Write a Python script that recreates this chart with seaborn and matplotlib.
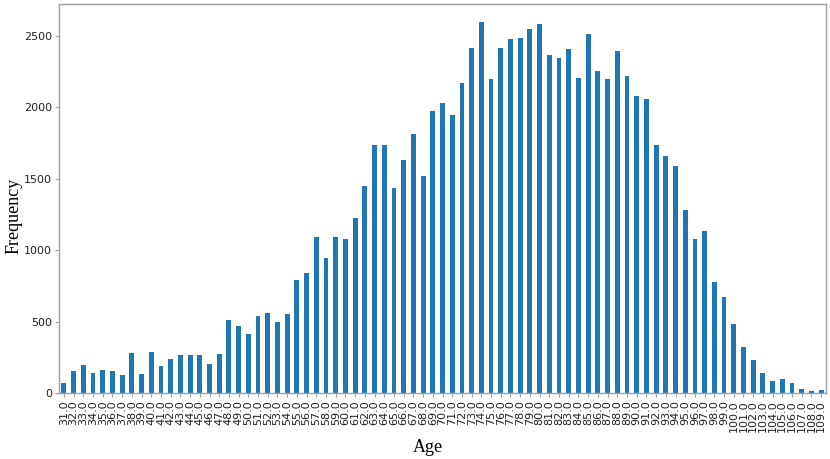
import matplotlib
matplotlib.use("Agg")
import matplotlib.pyplot as plt
import seaborn as sns
import pandas as pd

ages = [float(a) for a in range(31, 110)]
counts = [68, 154, 194, 143, 159, 154, 129, 280, 133, 285,
          187, 236, 264, 269, 269, 201, 273, 511, 467, 411,
          539, 560, 497, 555, 794, 840, 1090, 943, 1090, 1076,
          1226, 1452, 1739, 1739, 1434, 1630, 1816, 1517, 1977, 2031,
          1945, 2171, 2419, 2596, 2197, 2416, 2479, 2484, 2547, 2582,
          2365, 2344, 2412, 2204, 2512, 2258, 2197, 2395, 2220, 2078,
          2057, 1740, 1657, 1593, 1284, 1078, 1134, 775, 670, 483,
          322, 234, 140, 84, 96, 68, 31, 14, 21]
labels = [f"{a:.1f}" for a in ages]

df = pd.DataFrame({"Age": labels, "Frequency": counts})

sns.set_style("ticks")
plt.rcParams["axes.edgecolor"] = "#a0a0a0"
plt.rcParams["xtick.color"] = "#a0a0a0"
plt.rcParams["ytick.color"] = "#a0a0a0"
plt.rcParams["xtick.labelcolor"] = "#222222"
plt.rcParams["ytick.labelcolor"] = "#222222"

fig = plt.figure(figsize=(8.3, 4.59), dpi=100)
ax = fig.add_axes([0.0711, 0.1438, 0.9241, 0.8475])
sns.barplot(data=df, x="Age", y="Frequency", color="#1f77b4", width=0.5,
            saturation=1, ax=ax, order=labels, linewidth=0, edgecolor="none")
ax.set_xlim(-0.5, len(labels) - 0.5)
ax.set_ylim(0, 2725)
ax.set_yticks([0, 500, 1000, 1500, 2000, 2500])
ax.tick_params(axis="x", labelrotation=90, labelsize=8, length=3, pad=2)
ax.tick_params(axis="y", labelsize=8, length=3, pad=2)
for s in ax.spines.values():
    s.set_visible(True)
    s.set_linewidth(1.0)
ax.set_xlabel("Age", family="Liberation Serif", fontsize=13, color="black")
ax.set_ylabel("Frequency", family="Liberation Serif", fontsize=13, color="black")
ax.xaxis.set_label_coords(0.481, -0.141)
ax.xaxis.label.set_va("center")
ax.yaxis.set_label_coords(-0.059, 0.456)
ax.yaxis.label.set_va("center")
fig.savefig("out.png", dpi=100)
